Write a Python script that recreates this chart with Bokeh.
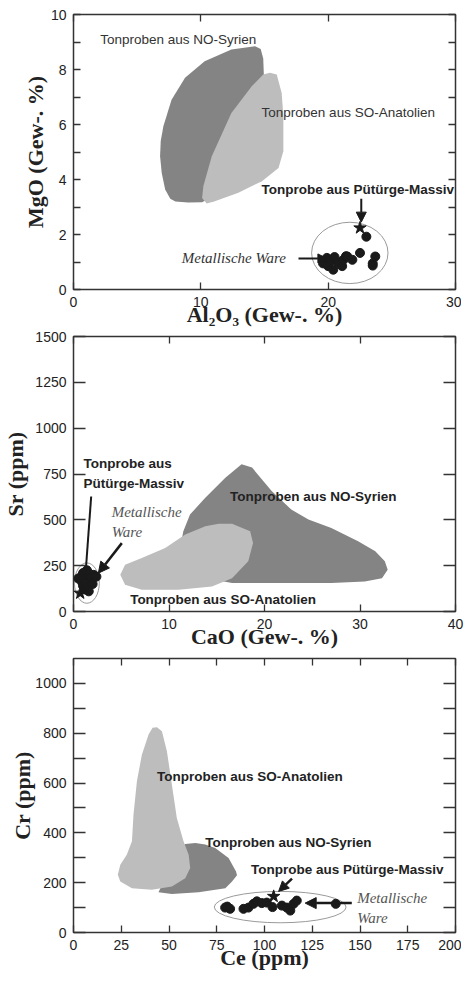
from bokeh.plotting import figure
from bokeh.layouts import column
from bokeh.models import FixedTicker, LinearAxis, Label, Arrow, NormalHead, Range1d, CustomJSTickFormatter
from bokeh.embed import file_html
from bokeh.resources import INLINE

DARK = "#848484"
LIGHT = "#bdbdbd"
INK = "#1a1a1a"
SANS = "Liberation Sans"

# ---------------- Panel 1: Al2O3 vs MgO ----------------
p1_syr_x = [14.26, 14.7, 14.9, 14.95, 14.5, 13.0, 11.5, 10.6, 10.1, 9.0, 8.0, 7.6, 7.2, 6.93, 6.8, 6.85, 7.06, 7.7, 8.76, 10.3, 12.4]
p1_syr_y = [8.85, 8.75, 8.4, 7.8, 7.2, 5.5, 4.0, 3.3, 3.17, 3.16, 3.2, 3.3, 3.64, 4.24, 4.85, 5.4, 5.94, 6.9, 7.7, 8.3, 8.73]
p1_ana_x = [15.43, 15.96, 16.35, 16.48, 16.48, 16.1, 14.8, 12.95, 11.1, 10.46, 10.1, 10.2, 10.86, 12.4, 14.0, 14.9]
p1_ana_y = [7.88, 7.82, 7.15, 6.3, 5.03, 4.42, 3.94, 3.52, 3.21, 3.13, 3.33, 3.76, 4.85, 6.42, 7.39, 7.82]
p1_ware_x = [19.6, 19.9, 20.0, 20.3, 20.4, 20.5, 20.8, 21.1, 21.2, 21.4, 21.5, 21.9, 22.5, 23.0, 23.5, 23.5, 23.7]
p1_ware_y = [0.95, 1.15, 0.85, 1.05, 0.72, 1.18, 0.97, 0.85, 1.08, 1.21, 1.2, 1.08, 1.33, 1.92, 0.95, 0.87, 1.2]
p1_star_x = [22.5]
p1_star_y = [2.24]

# ---------------- Panel 2: CaO vs Sr ----------------
p2_syr_x = [17.6, 18.7, 20.75, 22.8, 24.6, 27.0, 29.8, 31.6, 32.6, 32.9, 32.3, 30.5, 27.0, 21.8, 16.6, 12.0, 11.0, 11.5, 12.2, 13.8, 15.9]
p2_syr_y = [803, 785, 657, 557, 502, 456, 383, 328, 274, 228, 182, 164, 155, 155, 155, 200, 300, 438, 529, 620, 730]
p2_ana_x = [16.6, 18.5, 18.8, 18.3, 16.6, 14.5, 11.0, 7.15, 5.4, 4.9, 5.4, 7.15, 9.6, 11.7, 13.8, 15.2]
p2_ana_y = [478, 438, 374, 274, 182, 137, 119, 119, 146, 200, 255, 292, 347, 420, 465, 478]
p2_ware_x = [0.5, 0.8, 0.9, 1.0, 1.0, 1.1, 1.2, 1.3, 1.3, 1.4, 1.5, 1.5, 1.6, 1.7, 1.8, 1.9, 2.0, 2.1, 2.4]
p2_ware_y = [180, 190, 160, 140, 210, 175, 120, 200, 155, 225, 180, 130, 110, 205, 165, 190, 150, 200, 190]
p2_star_x = [0.7]
p2_star_y = [100]

# ---------------- Panel 3: Ce vs Cr ----------------
p3_ana_x = [43.7, 46.3, 48.9, 51.5, 54.1, 57.6, 60.3, 61.1, 58.5, 51.5, 41.0, 30.6, 24.5, 23.2, 24.5, 27.9, 30.6, 31.4, 33.2, 35.8, 39.3, 41.4]
p3_ana_y = [824, 808, 728, 594, 460, 366, 312, 259, 218, 185, 172, 178, 205, 232, 272, 312, 366, 473, 607, 714, 795, 822]
p3_syr_x = [58.5, 63.8, 69.0, 74.2, 81.2, 85.1, 85.6, 83.0, 79.5, 72.5, 65.5, 51.5, 44.5, 50.0, 55.9]
p3_syr_y = [355, 359, 353, 339, 299, 245, 230, 205, 178, 170, 162, 155, 162, 250, 339]
p3_ware_x = [79.4, 80.5, 82.0, 89.0, 91.6, 94.2, 96.0, 98.6, 101.2, 104.2, 109.1, 111.7, 113.5, 115.2, 116.9, 137.3]
p3_ware_y = [100, 104, 95, 95, 100, 115, 125, 118, 120, 102, 108, 100, 88, 115, 128, 115]
p3_star_x = [104.8]
p3_star_y = [145]

# tick values
p1_xticks = [0, 10, 20, 30]
p1_yticks = [0, 2, 4, 6, 8, 10]
p1_yminor = [1, 3, 5, 7, 9]
p2_xticks = [0, 10, 20, 30, 40]
p2_yticks = [0, 250, 500, 750, 1000, 1250, 1500]
p3_xticks = [0, 25, 50, 75, 100, 125, 150, 175, 200]
p3_yticks = [0, 200, 400, 600, 800, 1000]
p3_yminor = [100, 300, 500, 700, 900]


def style_axis(ax, ticker, tick_len, labels, standoff=7):
    ax.ticker = ticker
    ax.axis_line_color = None
    ax.major_tick_in = tick_len
    ax.major_tick_out = 0
    ax.minor_tick_in = tick_len
    ax.minor_tick_out = 0
    ax.major_tick_line_color = "#333333"
    ax.minor_tick_line_color = "#333333"
    ax.major_tick_line_width = 1.3
    ax.minor_tick_line_width = 1.3
    if labels:
        ax.major_label_text_font = SANS
        ax.major_label_text_font_size = "14px"
        ax.major_label_text_color = "#222222"
        ax.major_label_standoff = standoff
    else:
        ax.formatter = CustomJSTickFormatter(code="return ''")
        ax.major_label_text_font_size = "1px"
        ax.major_label_standoff = 0


def make_fig(xr, yr, xt, yt, ymin, xlab, ylab, xtl, ytl, ylab_so, top, fh):
    p = figure(frame_width=382, frame_height=fh, x_range=Range1d(*xr), y_range=Range1d(*yr),
               output_backend="svg", toolbar_location=None,
               min_border_left=67, min_border_right=12, min_border_top=top, min_border_bottom=0)
    p.xgrid.visible = False
    p.ygrid.visible = False
    p.outline_line_color = "#333333"
    p.outline_line_width = 1.5
    p.background_fill_color = "white"
    xtk = FixedTicker(ticks=xt, minor_ticks=[])
    ytk = FixedTicker(ticks=yt, minor_ticks=ymin)
    ax_b = p.xaxis[0]
    ax_l = p.yaxis[0]
    style_axis(ax_b, xtk, xtl, True, standoff=7)
    style_axis(ax_l, ytk, ytl, True, standoff=7)
    for ax, lab in ((ax_b, xlab), (ax_l, ylab)):
        ax.axis_label = lab
        ax.axis_label_text_font = "Liberation Serif"
        ax.axis_label_text_font_style = "bold"
        ax.axis_label_text_font_size = "22px"
        ax.axis_label_text_color = "#222222"
    ax_b.axis_label_standoff = -8
    ax_l.axis_label_standoff = ylab_so
    ax_top = LinearAxis()
    style_axis(ax_top, xtk, xtl, False)
    p.add_layout(ax_top, "above")
    ax_r = LinearAxis()
    style_axis(ax_r, ytk, ytl, False)
    p.add_layout(ax_r, "right")
    return p


def label(p, x, y, text, bold=True, font=SANS, size="13.5px", color="#222222", style=None, align="left"):
    p.add_layout(Label(x=x, y=y, text=text, text_font=font, text_font_size=size,
                       text_font_style=style if style else ("bold" if bold else "normal"),
                       text_color=color, text_baseline="middle", text_align=align))


def arrow(p, xs, ys, xe, ye, w=2, size=10):
    p.add_layout(Arrow(end=NormalHead(size=size, fill_color=INK, line_color=INK),
                       x_start=xs, y_start=ys, x_end=xe, y_end=ye,
                       line_width=w, line_color=INK))


# ---- panel 1
p1 = make_fig((0, 30), (0, 10), p1_xticks, p1_yticks, p1_yminor,
              "Al\u2082O\u2083 (Gew-. %)", "MgO (Gew-. %)", 7, 7, 0, 14, 275)
p1.patch(p1_syr_x, p1_syr_y, fill_color=DARK, line_color=None)
p1.patch(p1_ana_x, p1_ana_y, fill_color=LIGHT, line_color=None)
p1.ellipse(x=[21.7], y=[1.33], width=[6.0], height=[2.23], fill_color=None, line_color="#9a9a9a", line_width=1)
p1.scatter(p1_ware_x, p1_ware_y, size=9, color=INK)
p1.scatter(p1_star_x, p1_star_y, marker="star", size=13, color=INK)
label(p1, 2.1, 9.09, "Tonproben aus NO-Syrien", bold=False, color="#333333")
label(p1, 14.77, 6.44, "Tonproben aus SO-Anatolien", bold=False, color="#333333")
label(p1, 14.77, 3.64, "Tonprobe aus Pütürge-Massiv")
label(p1, 8.5, 1.16, "Metallische Ware", font="Liberation Serif", size="15px", style="italic", color="#333333")
arrow(p1, 22.6, 3.3, 22.6, 2.45, w=2, size=10)
arrow(p1, 17.67, 1.13, 19.9, 1.13, w=2, size=9)

# ---- panel 2
p2 = make_fig((0, 40), (0, 1500), p2_xticks, p2_yticks, [],
              "CaO (Gew-. %)", "Sr (ppm)", 7, 12, 4, 7, 275)
p2.patch(p2_syr_x, p2_syr_y, fill_color=DARK, line_color=None)
p2.patch(p2_ana_x, p2_ana_y, fill_color=LIGHT, line_color=None)
p2.ellipse(x=[1.4], y=[155], width=[2.6], height=[220], fill_color=None, line_color="#9a9a9a", line_width=1)
p2.scatter(p2_ware_x, p2_ware_y, size=9, color=INK)
p2.scatter(p2_star_x, p2_star_y, marker="star", size=13, color=INK)
label(p2, 16.4, 630, "Tonproben aus NO-Syrien")
label(p2, 5.93, 64, "Tonproben aus SO-Anatolien")
label(p2, 1.05, 809, "Tonprobe aus")
label(p2, 1.05, 700, "Pütürge-Massiv")
label(p2, 4.0, 545, "Metallische", font="Liberation Serif", size="15px", style="italic", color="#555555")
label(p2, 4.0, 436, "Ware", font="Liberation Serif", size="15px", style="italic", color="#555555")
arrow(p2, 1.85, 627, 1.15, 127, w=2, size=9)
arrow(p2, 5.06, 373, 2.6, 209, w=2.5, size=11)

# ---- panel 3
p3 = make_fig((0, 200), (0, 1100), p3_xticks, p3_yticks, p3_yminor,
              "Ce (ppm)", "Cr (ppm)", 7, 12, -3, 7, 274)
p3.patch(p3_syr_x, p3_syr_y, fill_color=DARK, line_color=None)
p3.patch(p3_ana_x, p3_ana_y, fill_color=LIGHT, line_color=None)
p3.ellipse(x=[108.2], y=[102], width=[69], height=[126], fill_color=None, line_color="#9a9a9a", line_width=1)
p3.scatter(p3_ware_x, p3_ware_y, size=9, color=INK)
p3.scatter(p3_star_x, p3_star_y, marker="star", size=13, color=INK)
label(p3, 43.7, 627, "Tonproben aus SO-Anatolien")
label(p3, 69, 363, "Tonproben aus NO-Syrien")
label(p3, 92.9, 252, "Tonprobe aus Pütürge-Massiv")
label(p3, 148.5, 138, "Metallische", font="Liberation Serif", size="15px", style="italic", color="#555555")
label(p3, 148.5, 58, "Ware", font="Liberation Serif", size="15px", style="italic", color="#555555")
arrow(p3, 114.4, 216, 107.4, 165, w=2.5, size=10)
arrow(p3, 145.7, 118, 121.3, 118, w=2.5, size=11)

layout = column(p1, p2, p3)
open("out.html", "w").write(file_html(layout, INLINE))
